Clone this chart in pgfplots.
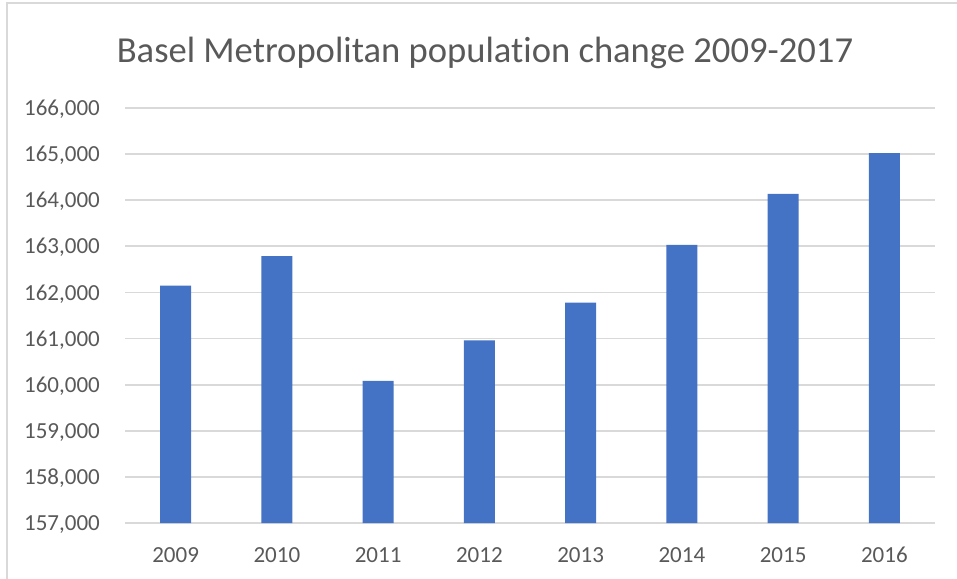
\documentclass[border=0pt]{standalone}
\usepackage{pgfplots}
\pgfplotsset{compat=1.18}
\usepackage{fontspec}
\setmainfont{Carlito}[Ligatures={NoCommon}]
\definecolor{barblue}{HTML}{4472C4}
\definecolor{gridgray}{HTML}{D9D9D9}
\definecolor{textgray}{HTML}{595959}
\definecolor{framegray}{HTML}{D9D9D9}
\begin{document}
\begin{tikzpicture}
\useasboundingbox (0,0) rectangle (957bp,579bp);
\draw[framegray, line width=2bp] (7bp,0) -- (7bp,576bp) -- (957bp,576bp);
\node[anchor=base, text=textgray, font=\fontsize{36.6bp}{40bp}\selectfont, inner sep=0pt] at (485bp,516.3bp) {Basel Metropolitan population change 2009-2017};
\begin{axis}[
  at={(125bp,56bp)}, anchor=south west,
  width=810bp, height=415bp, scale only axis,
  xmin=-0.5, xmax=7.5,
  ymin=157000, ymax=166000,
  xtick={0,1,2,3,4,5,6,7},
  xticklabels={2009,2010,2011,2012,2013,2014,2015,2016},
  ytick={157000,158000,159000,160000,161000,162000,163000,164000,165000,166000},
  ymajorgrids,
  grid style={gridgray, line width=1.8bp},
  major tick length=0pt,
  axis line style={draw=none},
  axis x line*=bottom,
  axis y line*=left,
  y axis line style={draw=none},
  x axis line style={draw=gridgray, line width=1.8bp},
  /pgf/number format/assume math mode=true,
  /pgf/number format/.cd, fixed, 1000 sep={,}, /pgfplots/.cd,
  scaled y ticks=false,
  ticklabel style={text=textgray, font=\fontsize{23bp}{26bp}\selectfont, inner sep=0pt},
  xticklabel style={anchor=base, yshift=-39.3bp},
  yticklabel style={anchor=base east, xshift=-25bp, yshift=-7.6bp},
  clip=false,
]
\addplot[ybar, bar width=31bp, fill=barblue, draw=none] coordinates {
  (0,162150) (1,162790) (2,160080) (3,160960) (4,161780) (5,163030) (6,164140) (7,165020)
};
\end{axis}
\end{tikzpicture}
\end{document}
